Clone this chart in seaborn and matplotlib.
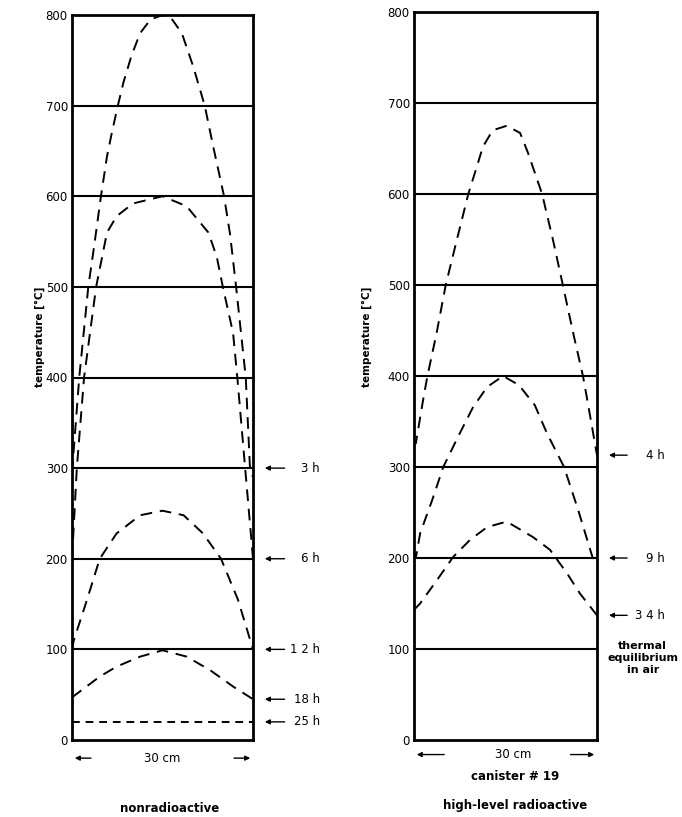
import matplotlib
matplotlib.use("Agg")
import matplotlib.pyplot as plt
import seaborn as sns

# ---- data (position across canister in cm, temperature in degC) ----
left_3h_x = [0, 1.2, 2.7, 3.5, 4.1, 4.8, 5.8, 6.6, 7.6, 8.5, 9.9, 11.3, 13.0, 15.0,
             16.6, 18.2, 20.1, 22.0, 23.4, 25.2, 26.2, 27.2, 28.8, 29.5, 30]
left_3h_y = [295, 400, 500, 537, 566, 600, 644, 670, 700, 725, 756, 780, 795, 800,
             795, 780, 743, 700, 655, 600, 558, 500, 400, 300, 290]
left_6h_x = [0, 0.8, 2.0, 4.0, 5.8, 7.4, 10.1, 15.0, 19.0, 22.6, 24.0, 25.0, 26.7, 27.4, 28.7, 30]
left_6h_y = [200, 300, 400, 500, 560, 578, 592, 600, 589, 560, 533, 500, 449, 400, 300, 200]
left_12h_x = [0, 0.3, 2.5, 4.6, 7.4, 11.3, 15, 18.5, 21.7, 24.7, 27.5, 30]
left_12h_y = [100, 110, 155, 200, 228, 248, 253, 248, 228, 200, 155, 100]
left_18h_x = [0, 4.6, 7.4, 11.3, 15, 19.0, 22.9, 26.7, 30]
left_18h_y = [47, 70, 81, 92, 99, 92, 77, 59, 45]
left_25h_x = [0, 30]
left_25h_y = [20, 20]

right_4h_x = [0, 0.3, 1.5, 2.2, 3.7, 5.2, 7.0, 8.9, 10.3, 11.3, 12.9, 15.2,
              17.4, 18.7, 21.0, 22.8, 24.4, 26.1, 27.7, 28.4, 30]
right_4h_y = [330, 326, 374, 400, 447, 500, 549, 600, 630, 652, 670, 675,
              667, 645, 600, 549, 500, 447, 400, 374, 313]
right_9h_x = [0, 0.3, 1.0, 3.0, 4.8, 7.2, 9.7, 12.0, 14.6, 17.2, 19.8, 21.8, 24.6, 26.9, 29.3, 30]
right_9h_y = [205, 200, 227, 264, 300, 333, 366, 388, 400, 390, 368, 337, 300, 253, 200, 198]
right_34h_x = [0, 1.0, 3.8, 6.4, 9.2, 12.0, 15.2, 19.5, 22.3, 25.1, 27.2, 30]
right_34h_y = [143, 150, 176, 201, 220, 234, 240, 223, 209, 183, 161, 137]

left_labels = ["3 h", "6 h", "1 2 h", "18 h", "25 h"]
left_label_y = [300, 200, 100, 45, 20]
right_labels = ["4 h", "9 h", "3 4 h"]
right_label_y = [313, 200, 137]

y_ticks = [0, 100, 200, 300, 400, 500, 600, 700, 800]
grid_levels = [100, 200, 300, 400, 500, 600, 700]

sns.set_theme(style="white")
plt.rcParams["font.family"] = ["DejaVu Sans"]
plt.rcParams["text.color"] = "black"
plt.rcParams["ytick.color"] = "black"
bold_narrow = ["Liberation Sans Narrow", "DejaVu Sans"]

W, H = 682, 817
fig = plt.figure(figsize=(W / 100, H / 100), dpi=100)
fig.patch.set_facecolor("white")


def px_axes(x0, x1, ytop, ybot):
    return fig.add_axes([x0 / W, (H - ybot) / H, (x1 - x0) / W, (ybot - ytop) / H])


ax_l = px_axes(72, 253, 15, 740)
ax_r = px_axes(414, 597, 12, 740)


def style_panel(ax):
    ax.set_xlim(0, 30)
    ax.set_ylim(0, 800)
    ax.set_xticks([])
    ax.set_yticks(y_ticks)
    ax.set_yticklabels([str(t) for t in y_ticks], fontsize=8.5, color="black")
    ax.tick_params(axis="y", length=0, pad=3)
    for lvl in grid_levels:
        ax.axhline(lvl, color="black", lw=1.5, zorder=1)
    for s in ax.spines.values():
        s.set_visible(True)
        s.set_color("black")
        s.set_linewidth(2)
    ax.set_ylabel("")
    ax.set_xlabel("")


def dashed(ax, xs, ys, dashes=(6, 4)):
    sns.lineplot(x=xs, y=ys, ax=ax, color="black", lw=1.4, estimator=None,
                 sort=False, zorder=3).lines[-1].set_dashes(dashes)


for xs, ys in [(left_3h_x, left_3h_y), (left_6h_x, left_6h_y),
               (left_12h_x, left_12h_y), (left_18h_x, left_18h_y)]:
    dashed(ax_l, xs, ys)
dashed(ax_l, left_25h_x, left_25h_y, dashes=(4, 3))

for xs, ys in [(right_4h_x, right_4h_y), (right_9h_x, right_9h_y),
               (right_34h_x, right_34h_y)]:
    dashed(ax_r, xs, ys)

style_panel(ax_l)
style_panel(ax_r)

# side labels with arrows
arrow_kw = dict(arrowstyle="-|>", color="black", lw=1.0, mutation_scale=7)
for lab, yv in zip(left_labels, left_label_y):
    ax_l.annotate("", xy=(1.05, yv), xytext=(1.19, yv),
                  xycoords=("axes fraction", "data"), textcoords=("axes fraction", "data"),
                  arrowprops=arrow_kw, annotation_clip=False)
    ax_l.text(1.37, yv, lab, transform=ax_l.get_yaxis_transform(),
              ha="right", va="center", fontsize=8.5)
for lab, yv in zip(right_labels, right_label_y):
    ax_r.annotate("", xy=(1.05, yv), xytext=(1.18, yv),
                  xycoords=("axes fraction", "data"), textcoords=("axes fraction", "data"),
                  arrowprops=arrow_kw, annotation_clip=False)
    ax_r.text(1.37, yv, lab, transform=ax_r.get_yaxis_transform(),
              ha="right", va="center", fontsize=8.5)
ax_r.text(1.25, 90, "thermal\nequilibrium\nin air", transform=ax_r.get_yaxis_transform(),
          ha="center", va="center", fontsize=8, fontweight="bold",
          family=bold_narrow, linespacing=1.25)

# width markers under each panel
for ax, yv, xt, l0, r0 in [(ax_l, -0.025, 0.5, 0.12, 0.88), (ax_r, -0.02, 0.54, 0.18, 0.84)]:
    ax.annotate("", xy=(0.0, yv), xytext=(l0, yv), xycoords="axes fraction",
                arrowprops=arrow_kw, annotation_clip=False)
    ax.annotate("", xy=(1.0, yv), xytext=(r0, yv), xycoords="axes fraction",
                arrowprops=arrow_kw, annotation_clip=False)
    ax.text(xt, yv, "30 cm", transform=ax.transAxes, ha="center", va="center", fontsize=8.5)

# y-axis titles and captions
fig.text(40 / W, 1 - 337 / H, "temperature [°C]", rotation=90, ha="center", va="center",
         fontsize=7.5, fontweight="bold", family=bold_narrow)
fig.text(367 / W, 1 - 337 / H, "temperature [°C]", rotation=90, ha="center", va="center",
         fontsize=7.5, fontweight="bold", family=bold_narrow)
fig.text(170 / W, 1 - 808 / H, "nonradioactive", ha="center", va="center",
         fontsize=8.5, fontweight="bold", family=bold_narrow)
fig.text(515 / W, 1 - 777 / H, "canister # 19", ha="center", va="center",
         fontsize=8.5, fontweight="bold", family=bold_narrow)
fig.text(515 / W, 1 - 805 / H, "high-level radioactive", ha="center", va="center",
         fontsize=8.5, fontweight="bold", family=bold_narrow)

fig.savefig("out.png", dpi=100, facecolor="white")
